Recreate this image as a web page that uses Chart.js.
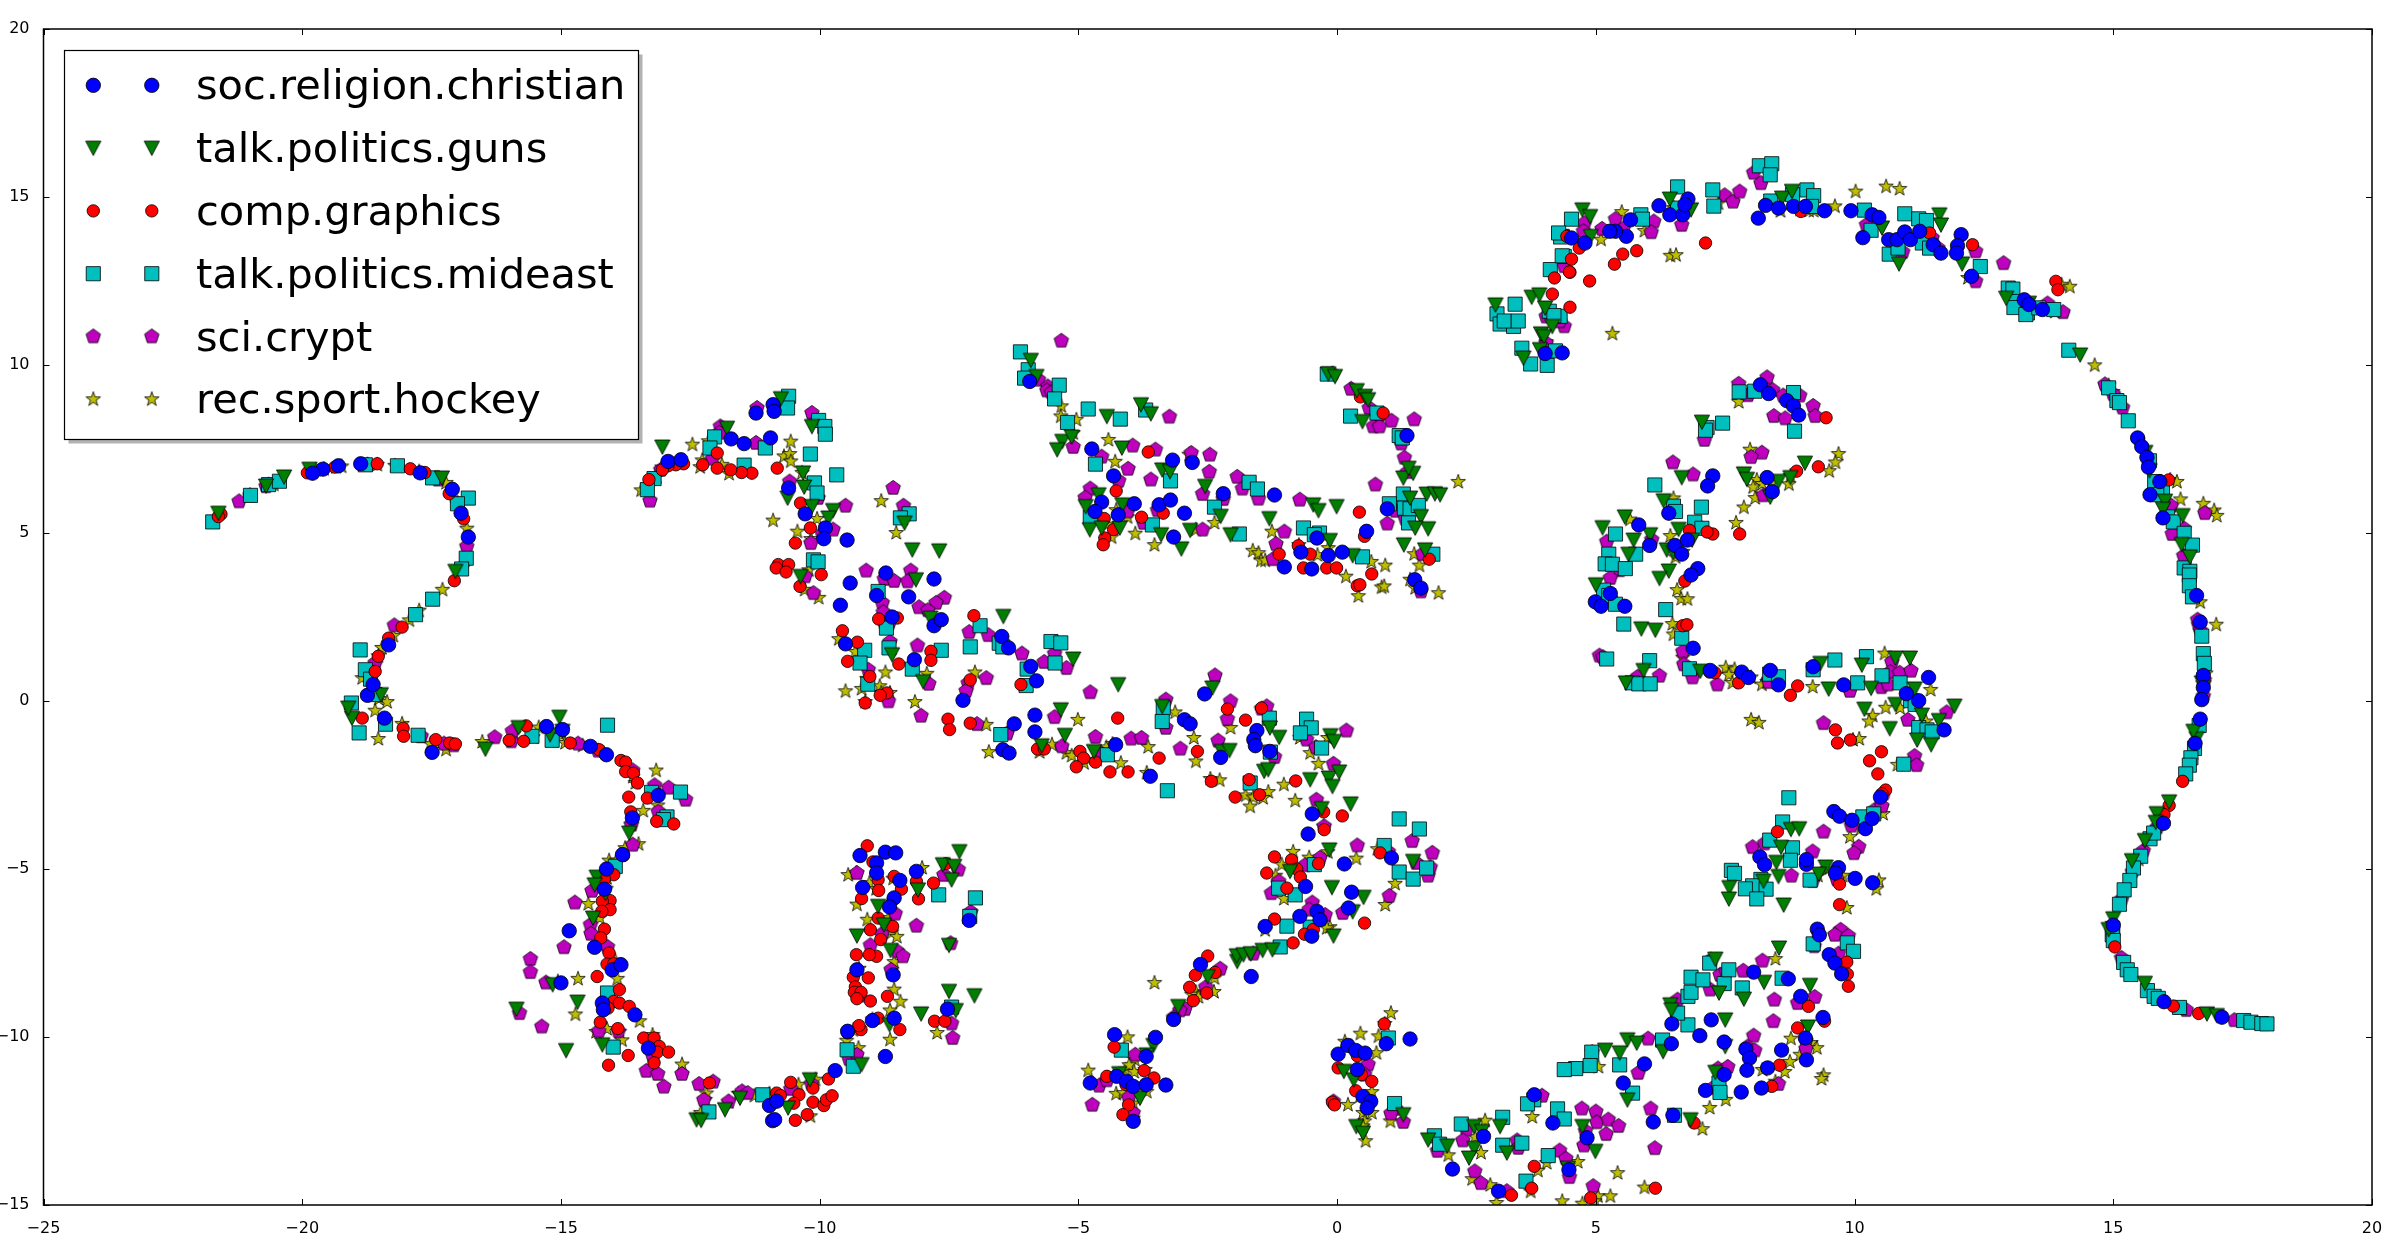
<!DOCTYPE html>
<html>
<head>
<meta charset="utf-8">
<title>t-SNE newsgroups</title>
<script src="https://cdn.jsdelivr.net/npm/chart.js@4/dist/chart.umd.js"></script>
<style>
  html, body { margin: 0; padding: 0; background: #fff; }
  canvas { display: block; }
</style>
</head>
<body>
<canvas id="chart" width="2400" height="1243"></canvas>
<script>
const xTicks = [-25, -20, -15, -10, -5, 0, 5, 10, 15, 20]
const yTicks = [-15, -10, -5, 0, 5, 10, 15, 20]

const christian = [
  [-19.3,7],[-19.6,6.9],[-18.87,7.06],[-19.8,6.78],[-17.72,6.79],[-17.1,6.3],[-16.93,5.59],[-16.79,4.88],[-18.74,.17],[-18.41,-.51],
  [-17.49,-1.53],[-15.28,-.76],[-14.97,-.85],[-14.43,-1.35],[-14.12,-1.6],[-13.12,-2.81],[-13.62,-3.48],[-18.33,1.67],[-18.63,.49],
  [-11.23,8.57],[-10.9,8.82],[-10.88,8.62],[-11.71,7.8],[-11.46,7.66],[-10.95,7.83],[-12.93,7.13],[-12.68,7.18],[-10.6,6.34],[-10.28,5.57],
  [-9.89,5.15],[-9.92,4.83],[-9.47,4.79],[-9.41,3.51],[-8.72,3.81],[-7.79,3.63],[-8.28,3.1],[-9.6,2.85],[-8.9,3.14],[-7.79,2.24],[-7.65,2.42],
  [-8.6,2.5],[-9.5,1.7],[-8.17,1.23],[-6.48,1.92],[-6.35,1.58],[-5.92,1.03],[-5.81,.6],[-7.23,.02],[-6.24,-.68],[-5.84,-.42],[-5.84,-.92],
  [-6.46,-1.45],[-6.34,-1.55],[-4.28,-1.3],[-3.61,-2.24],[-2.56,.21],[-2.95,-.56],[-2.84,-.68],[-2.25,-1.68],
  [-5.94,9.51],[-4.74,7.5],[-3.18,7.17],[-2.8,7.1],[-4.32,6.7],[-4.55,5.92],[-3.92,5.87],[-3.44,5.84],[-3.22,5.98],[-2.95,5.59],[-4.68,5.64],
  [-4.23,5.54],[-3.16,4.88],[-2.2,6.17],[-1.21,6.13],[-.39,4.85],[-.7,4.43],[-.17,4.33],[.1,4.43],[-1.02,3.99],[-.49,3.93],[.57,5.05],[.97,5.72],
  [1.5,3.61],[1.62,3.36],[1.35,7.9],
  [-1.55,-.88],[-1.61,-1.15],[-1.58,-1.33],[-1.3,-1.5],[-.48,-3.36],[-.56,-3.96],[.14,-4.85],[1.05,-4.67],[-.61,-5.52],[.28,-5.69],[-.72,-6.41],
  [-.39,-6.26],[-.33,-6.51],[.22,-6.16],[-1.39,-6.71],[-.49,-7],
  [-4.3,-9.93],[-3.51,-10.01],[-2.64,-7.84],[-1.66,-8.2],[-3.16,-9.48],[-4.77,-11.37],[-4.26,-11.17],[-4.07,-11.32],[-3.69,-10.58],[-3.94,-11.47],
  [-3.69,-11.42],[-3.31,-11.43],[-3.94,-12.51],
  [-14.84,-6.84],[-14.35,-7.33],[-13.81,-4.57],[-14.12,-5],[-14.16,-5.6],[-14.01,-8],[-13.84,-7.85],[-15,-8.39],[-14.2,-8.99],[-14.18,-9.19],
  [-13.57,-9.34],[-13.31,-10.33],[-10.97,-12.04],[-10.83,-11.91],[-10.91,-12.49],[-10.87,-12.46],[-9.7,-11],[-8.73,-10.58],[-8.73,-4.5],[-8.53,-4.52],
  [-9.22,-4.6],[-8.9,-4.82],[-8.9,-5.12],[-8.45,-5.34],[-9.17,-5.55],[-8.56,-5.86],[-8.65,-6.13],[-8.13,-5.07],[-8.58,-8.15],[-9.28,-8],[-8.98,-9.51],
  [-8.56,-9.44],[-9.46,-9.83],[-7.53,-9.17],[-7.11,-6.53],
  [.02,-10.51],[.21,-10.25],[.36,-10.4],[.54,-10.48],[.95,-10.2],[1.41,-10.06],[.39,-10.97],[.5,-11.77],[.65,-11.92],[.58,-12.11],[2.23,-13.93],
  [2.83,-12.96],[3.12,-14.59],[3.81,-11.72],[4.17,-12.56],[4.83,-13],[4.48,-13.95],[5.53,-11.37],[5.94,-10.8],[6.11,-12.53],[6.49,-12.33],[6.46,-10.2],
  [6.47,-9.61],[7.01,-9.96],[7.23,-9.49],[7.48,-10.15],[7.12,-11.59],[7.81,-11.64],[7.48,-11.12],[7.9,-10.36],[7.97,-10.63],[7.92,-10.99],[8.2,-11.52],
  [8.32,-10.92],[8.59,-10.39],[8.05,-8.07],[8.72,-8.27],[8.96,-8.79],[9.05,-10.03],[9.07,-10.68],[9.39,-9.42],[9.28,-6.79],[9.32,-6.96],[9.51,-7.55],
  [9.62,-7.8],[9.75,-8.12],
  [8.18,9.41],[8.34,9.15],[8.69,8.94],[8.82,8.78],[8.92,8.51],[7.26,6.7],[7.16,6.4],[8.31,6.65],[8.41,6.23],[6.41,5.59],[5.83,5.24],[6.04,4.63],[6.53,4.63],
  [6.77,4.79],[6.66,4.37],[6.97,3.94],[6.84,3.75],[5.28,3.2],[4.99,2.95],[5.1,2.82],[5.56,2.82],[6.88,1.57],[7.21,.91],[7.82,.86],[7.95,.7],[8.37,.91],
  [8.53,.48],[9.2,1.02],[9.79,.48],[11.43,.7],[11,.22],[11.24,.01],[11.73,-.86],[10.5,-2.86],[9.6,-3.29],[9.71,-3.43],[9.95,-3.55],[10.21,-3.8],[10.34,-3.5],
  [8.17,-4.64],[8.26,-4.87],[9.07,-4.86],[9.07,-4.72],[9.69,-4.96],[9.63,-5.12],[10.01,-5.28],[10.35,-5.41],
  [6.22,14.74],[6.43,14.47],[6.68,14.47],[6.78,14.94],[6.72,14.77],[5.67,14.32],[5.59,13.83],[5.38,13.98],[5.27,13.98],[4.79,13.63],[4.53,13.78],[8.14,14.37],
  [8.28,14.75],[8.82,14.72],[8.53,14.67],[9.05,14.72],[9.42,14.59],[9.93,14.59],[10.34,14.47],[10.47,14.39],[10.16,13.79],[10.66,13.73],[10.82,13.73],
  [10.97,13.96],[11.08,13.73],[11.26,13.98],[11.52,13.58],[11.67,13.33],[12.06,13.88],[11.99,13.55],[11.97,13.33],[12.26,12.64],[13.28,11.94],[13.37,11.8],
  [13.63,11.65],[4.35,10.36],[4.02,10.34],
  [15.47,7.83],[15.55,7.57],[15.65,7.25],[15.68,6.96],[15.9,6.53],[15.71,6.14],[15.96,5.45],[16.61,3.14],[16.68,2.35],[16.74,.76],[16.74,.4],[16.71,.04],
  [16.68,-.54],[16.58,-1.26],[15.97,-3.64],[15.98,-8.95],[17.1,-9.41],[15,-6.67]
]

const guns = [
  [-20.35,6.67],[-19.86,6.9],[-21.62,5.59],[-19.04,-.51],[-19.11,-.21],[-18.48,.19],[-17.04,3.86],[-17.3,6.64],[-16.46,-1.43],[-15.82,-.79],[-15.03,-.48],
  [-15.21,-1],[-14.97,-.9],[-20.7,6.4],
  [-11.79,8.12],[-10.75,9],[-13.04,7.56],[-10.32,6.79],[-10.3,6.37],[-10.62,6.04],[-10.15,8.17],[-10.15,5.79],[-9.74,5.67],[-9.83,5.45],[-8.36,5.3],[-8.21,4.5],
  [-7.69,4.47],[-10.37,3.71],[-8.14,3.61],[-7.86,2.47],[-8.6,1.38],[-8,.58],[-6.45,2.52],[-5.1,1.25],[-4.23,.49],[-5.34,-.26],[-5.26,-1.02],[-5.71,-1.33],
  [-4.7,-1.5],[-3.38,-.16],[-2.41,.39],
  [-5.92,10.14],[-5.81,9.66],[-3.79,8.82],[-3.6,8.55],[-4.45,8.47],[-5.31,7.73],[-5.41,7.48],[-5.13,7.86],[-4.16,7.53],[-3.38,6.88],[-3.23,6.83],[-4.61,6.14],
  [-4.86,5.79],[-4.15,5.84],[-4.78,5.1],[-4.55,5.15],[-4.2,5.15],[-3.4,4.95],[-3.01,4.53],[-2.84,5.08],[-2.25,5.5],[-2.55,6.39],[-2.06,4.95],[-1.31,5.43],
  [-.46,5.84],[-.36,5.67],[-.01,5.79],[-.17,9.74],[-.04,9.66],[.38,9.24],[.54,9.07],[.6,8.97],[.49,8.32],[1.28,6.64],[1.47,6.78],[1.41,6.04],[1.73,6.16],
  [1.89,6.17],[1.99,6.14],[1.62,5.49],[1.76,5.13],[1.51,5.15],[1.29,4.65],[-.14,4.78],[.3,4.33],[1.7,4.5],[1.38,6.93],
  [-1.3,-.8],[-1.12,-1.08],[-2.23,-1.5],[-2.08,-1.47],[-1.41,-2.09],[-1.33,-2.04],[-.52,-2.34],[-.16,-2.29],[-.09,-2.54],[.04,-2.11],[.26,-3.06],[-.3,-3.2],
  [-.13,-1.03],[-.06,-1.2],[-.15,-4.43],[-.1,-5.55],[.51,-5.84],[.3,-6.27],[-.07,-6.99],[1.47,-4.77],[-.91,-5.07],
  [-1.93,-7.75],[-1.94,-7.58],[-1.81,-7.55],[-1.67,-7.52],[-1.44,-7.42],[-1.25,-7.4],[-2.5,-8.2],[-3.07,-9.09],[-3.55,-10.25],[-3.68,-10.53],[-4.21,-11.09],[-3.81,-11.82],
  [-13.68,-3.93],[-14.31,-5.24],[-14.35,-5.47],[-14.14,-5.72],[-14.38,-6.46],[-15.86,-9.17],[-15.16,-8.44],[-14.68,-8.96],[-14.9,-10.4],[-14.2,-10.23],[-12.38,-12.46],
  [-12.29,-12.48],[-11.83,-12.16],[-11.54,-11.82],[-10.61,-12.11],[-10.19,-11.27],[-9.19,-10.82],[-8.87,-6.11],[-7.62,-4.87],[-7.3,-4.48],[-7.4,-4.92],[-7.45,-5.32],
  [-8.1,-5.62],[-9.28,-6.99],[-8.76,-6.66],[-8.63,-7.42],[-7.5,-8.64],[-7.01,-8.77],[-8.04,-9.31],[-8.65,-9.63],[-7.37,-9.21],[-7.5,-7.27],
  [.13,-11.02],[.32,-11.27],[.37,-12.66],[.5,-12.86],[1.28,-12.31],
  [1.76,-13.06],[2.13,-13.24],[2.65,-12.66],[2.8,-12.81],[2.65,-13.31],[2.55,-13.6],[3.15,-12.66],[3.28,-13.45],[4.74,-12.66],[4.99,-13.4],[4.46,-13.9],[5.61,-10.08],
  [5.79,-10.18],[6.3,-10.43],[5.18,-10.39],[5.46,-10.47],[5.61,-11.87],[6.83,-12.46],[6.44,-9.04],[6.46,-9.19],[7.5,-9.49],[7.5,-10.28],[7.38,-8.69],[7.31,-7.68],
  [7.86,-8.87],[8.25,-8.37],[9.14,-8.46],[9.1,-9.7],[8.54,-7.35],[7.31,-11.05],
  [7.05,8.3],[7.86,6.76],[7.92,6.6],[9.04,7.08],[8.53,6.54],[8.76,6.65],[8.37,6.07],[6.66,6.65],[6.31,5.96],[6.05,4.95],[5.56,5.48],[5.13,5.16],[5.73,4.79],[5.63,4.37],
  [6.6,5.11],[6.86,4.79],[6.37,4.5],[6.5,4.42],[6.41,3.87],[6.23,3.65],[5,3.46],[5.88,2.15],[6.15,2.11],[5.92,.91],[5.58,.54],[7.02,.89],[9.34,1.12],[10.14,1.07],
  [9.5,.36],[10.32,.38],[10.79,1.28],[11.07,1.28],[11.16,.36],[10.19,-.24],[10.79,-.1],[11.3,-.42],[11.93,-.15],[10.68,-.82],[11.63,-.58],[11.21,-1.16],[11.48,-1.3],
  [8.77,-3.82],[8.93,-3.8],[8.58,-4.35],[8.49,-4.8],[8.53,-5.22],[7.58,-5.55],[7.57,-5.89],[9.44,-4.94],[9.31,-5.15],[8.24,-5.36],[8.63,-6.07],
  [4.74,14.62],[4.89,14.42],[4.9,13.83],[6.43,14.94],[6.84,14.62],[8.6,14.97],[8.79,15.17],[10.53,14.08],[10.86,13.01],[11.64,14.47],[11.67,14.17],[12.08,13.01],
  [12.93,11.99],[13.37,11.84],[14.36,10.3],
  [3.06,11.79],[3.76,12.02],[3.91,12.09],[4.02,11.7],[4.16,11.15],[3.94,10.93],[4,10.85],[3.92,10.46],[3.6,10.21],
  [15.62,7.4],[15.7,6.86],[16,5.95],[15.96,5.71],[16.34,5.52],[16.32,4.66],[16.48,4.29],[16.74,.4],[16.71,.54],[16.61,-1.12],[16.55,-.9],[16.08,-3],[15.84,-3.35],
  [15.82,-3.61],[15.61,-4.15],[15.36,-4.75],[15,-6.48],[15.61,-8.4],[16.81,-9.31],[17,-9.36],[14.91,-6.8]
]

const graphics = [
  [-19.9,6.79],[-21.57,5.56],[-21.62,5.49],[-19.37,6.96],[-18.55,7.06],[-17.91,6.91],[-17.63,6.8],[-17.16,6.17],[-16.88,5.42],[-17.06,3.58],[-18.07,2.2],[-18.33,1.87],
  [-18.53,1.33],[-18.59,.88],[-18.84,-.51],[-18.05,-.81],[-18.04,-1.05],[-17.42,-1.15],[-17.15,-1.25],[-17.04,-1.28],[-15.67,-.74],[-16,-1.17],[-15.72,-1.2],[-14.82,-1.25],
  [-14.26,-1.45],[-14.14,-1.6],[-13.84,-1.77],[-13.75,-1.82],[-13.75,-2.1],[-13.6,-2.15],[-13.52,-2.44],[-13.69,-2.86],[-13.33,-2.89],[-13.65,-3.3],[-13.15,-3.58],[-12.82,-3.66],
  [-10.37,5.89],[-10.18,5.15],[-10.47,4.7],[-10.82,6.93],[-11.31,6.78],[-11.51,6.8],[-11.72,6.88],[-11.98,6.93],[-11.98,7.38],[-12.26,7.03],[-12.63,7.06],[-12.78,7.03],[-12.93,7],
  [-13.04,6.88],[-13.3,6.59],[-10.8,4.06],[-10.84,3.96],[-10.6,4.06],[-10.65,3.84],[-9.97,3.76],[-10.38,3.41],[-8.5,2.47],[-8.86,2.44],[-9.56,2.09],[-9.27,1.75],[-9.46,1.18],
  [-8.47,1.1],[-7.85,1.48],[-7.85,1.21],[-9.03,.73],[-8.7,.24],[-8.83,.17],[-9.12,-.06],[-7.02,2.54],[-7.09,.63],[-6.11,.49],[-7.52,-.54],[-7.49,-.85],[-7.09,-.66],[-5.79,-1.43],
  [-5.66,-1.43],[-4.24,-.51],[-3.44,-1.7],[-2.7,-1.5],[-4.97,-1.5],[-4.9,-1.7],[-5.04,-1.96],[-4.67,-1.82],[-4.39,-2.11],[-4.04,-2.11],[-2.43,-2.39],
  [-3.65,7.41],[-4.27,6.25],[-4.5,5.43],[-4.32,5.1],[-4.49,4.85],[-4.52,4.65],[-3.78,5.47],[-3.36,5.59],[.45,9.05],[.89,8.57],[.43,5.62],[.53,4.9],[-.75,4.62],[-1.12,4.37],
  [-.52,4.37],[-.65,3.96],[-.2,3.96],[-.01,3.96],[.67,3.78],[.39,3.43],[.44,3.46],[1.78,4.22],
  [-2.12,-.24],[-1.77,-.57],[-1.46,-.21],[-1.97,-2.86],[-1.7,-2.34],[-1.5,-2.79],[-.8,-2.38],[-.26,-3.3],[.1,-3.42],[-.25,-3.83],[-1.21,-4.64],[-.88,-4.73],[-.78,-5],[-1.36,-5.12],
  [-.71,-5.24],[-.97,-5.57],[-.36,-4.84],[.83,-4.52],[-1.21,-6.49],[-.63,-6.94],[-.46,-6.8],[-.85,-7.2],[.53,-6.61],
  [-2.5,-7.59],[-2.74,-8.16],[-2.36,-8.08],[-2.85,-8.52],[-2.78,-8.92],[-4.31,-10.3],[-4.45,-11.17],[-3.73,-11],[-3.54,-11.22],[-4.08,-11.42],[-4.03,-12.02],[-4.14,-12.31],[-2.52,-8.69],
  [-13.79,-4.6],[-13.98,-5.17],[-14.16,-5.3],[-14.05,-5.94],[-14.2,-5.96],[-14.05,-6.21],[-14.21,-6.26],[-14.16,-6.79],[-14.23,-7.05],[-14.07,-7.5],[-14.11,-7.83],[-13.98,-7.82],
  [-14.3,-8.2],[-13.87,-8.59],[-13.98,-8.94],[-13.87,-8.99],[-14.09,-9.14],[-13.68,-9.09],[-14.24,-9.56],[-13.9,-9.75],[-13.7,-10.55],[-14.08,-10.84],[-13.4,-10.03],[-13.2,-10.03],
  [-13.1,-10.28],[-13.14,-10.45],[-12.92,-10.45],[-13.2,-10.77],[-12.13,-11.37],[-10.83,-11.67],[-10.76,-11.74],[-10.56,-11.35],[-10.4,-11.72],[-10.13,-11.52],[-10.5,-11.97],
  [-10.13,-11.94],[-9.92,-12.04],[-9.87,-11.87],[-9.76,-11.75],[-9.83,-11.25],[-10.47,-12.48],[-10.24,-12.31],[-9.2,-9.78],[-9.24,-9.66],[-9.46,-9.88],[-8.87,-9.44],[-8.45,-9.78],
  [-7.78,-9.53],[-7.58,-9.53],[-9.08,-4.31],[-8.97,-4.79],[-8.87,-5.32],[-8.56,-5.22],[-8.42,-5.6],[-8.86,-5.64],[-8.13,-5.37],[-7.8,-5.42],[-7.56,-4.84],[-9.19,-5.88],[-8.58,-5.91],
  [-8.09,-5.89],[-8.87,-6.46],[-9.02,-6.81],[-8.59,-6.71],[-8.82,-7.1],[-9.29,-7.55],[-8.9,-7.6],[-9.04,-7.55],[-9.35,-8.22],[-9.06,-8.24],[-9.31,-8.51],[-9.33,-8.67],[-9.2,-8.67],
  [-9.28,-8.86],[-9.02,-8.93],[-8.69,-8.79],
  [.02,-10.92],[.39,-10.56],[.47,-11.12],[.67,-11.32],[.36,-11.6],[-.09,-11.94],[-.05,-12.02],[.91,-9.61],
  [3.81,-13.85],[3.76,-14.5],[3.37,-14.71],[4.9,-14.79],[6.9,-12.56],[6.15,-14.5],[8.9,-9.73],[9.11,-9.09],[8.55,-10.84],[8.4,-11.47],[9.42,-9.53],[9.85,-7.77],[9.86,-8.13],[9.88,-8.49],[9.71,-6.06],
  [9.45,8.43],[8.88,6.84],[9.3,6.97],[7.78,4.97],[7.26,4.97],[7.15,5.03],[6.81,5.08],[6.72,3.57],[6.68,2.24],[6.76,2.27],[7.2,.86],[7.3,.84],[7.76,.54],[8.9,.45],[8.76,.17],[9.63,-.86],
  [9.67,-1.25],[9.92,-1.16],[10.52,-1.51],[10.29,-1.78],[10.45,-2.17],[10.6,-2.65],[10.53,-2.76],[8.51,-3.89],[9.71,-5.45],
  [7.12,13.63],[5.79,13.4],[5.52,13.3],[5.36,13],[4.68,13.48],[4.53,13.15],[4.5,12.76],[4.88,12.5],[4.5,11.72],[8.96,14.57],[11.45,13.93],[12.28,13.58],[13.89,12.49],[13.93,12.24],[4.44,13.83],
  [4.16,12.11],[4.2,12.59],[4.49,12.77],
  [15.49,7.8],[16.07,6.58],[16.34,-2.39],[16.08,-3.11],[15.98,-3.38],[15.03,-7.32],[16.16,-9.08],[16.65,-9.3]
]

const mideast = [
  [-21.73,5.33],[-20.65,6.44],[-20.44,6.54],[-21,6.12],[-18.78,7.03],[-18.16,7],[-17.48,6.64],[-16.79,6.04],[-17,5.87],[-16.83,4.25],[-16.92,3.93],[-17.48,3.03],[-17.81,2.57],[-18.88,1.52],
  [-18.78,.93],[-18.68,.65],[-18.59,.19],[-19.05,-.06],[-18.39,-.69],[-18.9,-.95],[-17.76,-1.02],[-15.56,-1.05],[-15.17,-1.17],[-14.1,-.72],[-13.25,-2.72],[-12.69,-2.71],[-12.95,-3.45],[-13.02,-3.53],
  [-10.6,9.07],[-10.62,8.72],[-10.02,8.35],[-9.9,8.17],[-9.89,7.94],[-12.03,7.86],[-12.12,7.53],[-11.05,7.53],[-11.46,7.02],[-10.18,7.35],[-9.67,6.73],[-10.1,6.49],[-10.05,6.19],[-13.2,6.62],[-13.33,6.29],
  [-8.27,5.57],[-8.44,5.45],[-10.12,4.2],[-10.03,4.14],[-8.87,3.26],[-8.71,2.17],[-6.9,2.24],[-7.09,1.61],[-6.53,1.72],[-6.46,1.61],[-5.53,1.77],[-5.34,1.73],[-5.45,1.13],[-5.99,.95],[-6.01,.46],
  [-9.13,1.51],[-8.66,1.58],[-9.22,1.13],[-7.65,1.51],[-8.21,.95],[-9.07,.5],[-6.5,-1],[-4.44,-1.6],[-3.36,-.21],[-3.38,-.61],[-3.28,-2.67],
  [-6.12,10.39],[-5.97,9.86],[-6.04,9.61],[-5.37,9.4],[-5.46,8.99],[-4.81,8.69],[-4.19,8.39],[-5.21,8.29],[-3.7,8.66],[-4.67,7.05],[-3.22,6.55],[-4.77,5.47],[-3.57,5.24],[-2.37,5.77],[-1.89,4.97],
  [-1.7,6.51],[-1.54,6.31],[-.65,5.15],[-.34,5],[-.44,4.95],[.49,4.29],[1.85,4.37],[-.19,9.73],[.26,8.48],[.77,8.57],[1.2,7.9],[1.26,7.83],[1.28,6.16],[1.01,5.87],[1.3,5.74],[1.41,5.72],[1.57,5.82],[1.38,5.3],
  [-1.31,-.51],[-.59,-.54],[-.5,-.8],[-.71,-.95],[-1.29,-1.52],[-.3,-1.4],[-1.68,-2.44],[.91,-4.3],[1.2,-5.09],[1.59,-3.81],[1.2,-3.51],[1.47,-5.3],[1.73,-4.97],[-.44,-4.87],[-1.13,-5.57],[-.81,-5.77],
  [-.97,-6.7],[-.52,-6.73],[-1.1,-7.32],[-4.17,-10.39],
  [-13.95,-4.92],[-14.1,-8.69],[-13.99,-10.3],[-12.14,-12.23],[-11.1,-11.72],[-9.35,-10.87],[-9.47,-10.38],[-7.7,-5.77],[-6.99,-5.86],[-7.1,-6.41],[-7.45,-9.11],
  [.99,-10.03],[1.11,-11.98],
  [1.88,-12.94],[1.98,-13.19],[2.4,-12.59],[3.2,-12.39],[3.2,-13.22],[3.57,-13.16],[3.8,-11.87],[3.68,-11.99],[4.26,-12.14],[4.39,-12.44],[4.08,-13.53],[3.65,-14.29],[4.92,-10.45],[4.89,-10.85],[4.61,-10.94],
  [4.39,-10.97],[5.46,-10.83],[5.71,-11.67],[6.29,-10.09],[6.78,-9.64],[6.58,-9.29],[6.78,-8.79],[6.84,-8.67],[6.84,-8.22],[7.07,-8.3],[7.48,-8.41],[7.83,-8.54],[7.2,-7.8],[7.57,-8],[8.6,-8.25],[7.38,-11.37],
  [7.4,-11.65],[6.52,-12.33],[9.2,-7.23],[9.86,-7.2],[9.98,-7.45],
  [7.77,9.2],[8.07,9.22],[8.82,9.18],[8.84,8.03],[7.45,8.27],[7.15,8.14],[7.12,8.06],[6.14,6.43],[7.04,5.77],[6.5,5.8],[6.54,5.64],[6.91,5.32],[7.05,5.14],[5.38,4.97],[5.77,4.37],[5.25,4.37],[5.18,4.08],
  [5.32,4.07],[5.57,3.94],[5.15,3.3],[5.25,3.14],[5.38,2.88],[6.35,2.72],[5.54,2.29],[6.66,1.87],[6.81,.96],[5.21,1.25],[6.04,1.2],[5.7,.54],[5.83,.51],[6.05,.51],[8.36,.8],[8.53,.72],[9.2,.93],[9.62,1.22],
  [10.23,1.32],[10.06,.54],[10.53,.75],[10.88,.54],[11.08,.01],[11.17,-.1],[11.24,-.79],[11.4,-.86],[11.5,-.92],[10.95,-1.88],[8.73,-2.88],[8.61,-3.6],[10.16,-3.45],[10.37,-3.36],[8.36,-4.14],[8.8,-4.37],
  [8.76,-4.74],[7.62,-5.04],[7.68,-5.13],[8.19,-5.31],[8.03,-5.5],[7.89,-5.59],[8.29,-5.6],[8.11,-5.89],[9.14,-5.33],
  [4.53,14.34],[4.35,13.83],[4.39,13.23],[5.87,14.47],[5.9,14.34],[6.58,15.3],[6.58,14.67],[7.26,15.21],[7.28,14.73],[8.16,15.93],[8.4,15.99],[8.37,15.66],[8.38,14.88],[8.8,15.07],[9.08,15.21],[9.21,15.04],
  [9.17,14.72],[10.19,14.61],[10.32,14.01],[10.97,14.5],[11.24,14.35],[11.39,14.3],[10.67,13.3],[10.84,13.48],[11.31,13.63],[11.45,13.48],[12.43,12.93],[12.97,12.29],[13.06,12.26],[13.11,11.89],[13.08,11.71],
  [13.34,11.55],[13.31,11.5],[13.56,11.7],[13.85,11.65],[14.14,10.44],[4.31,11.45],
  [3.44,11.81],[3.09,11.52],[3.15,11.22],[3.41,11.15],[3.23,11.31],[3.5,11.31],[4.1,11.6],[4.19,11.47],[3.57,10.5],[3.74,10.03],[4.06,9.99],[4.22,10.42],[4.32,13.81],[4.28,13.93],[4.12,12.84],[4.35,13.25],
  [14.91,9.32],[15.07,8.94],[15.12,8.88],[15.29,8.34],[15.7,7.15],[15.8,6.53],[15.95,6.24],[15.84,6.14],[16.05,5.48],[16.16,5.33],[16.37,4.99],[16.53,4.64],[16.37,3.96],[16.48,3.86],[16.47,3.75],[16.47,3.43],
  [16.53,3.1],[16.71,1.93],[16.74,1.41],[16.76,1.12],[16.66,-.73],[16.57,-1.41],[16.5,-1.69],[16.47,-1.91],[16.4,-2.17],[15.71,-4.1],[15.78,-3.93],[15.53,-4.62],[15.39,-4.97],[15.32,-5.34],[15.21,-5.62],
  [15.12,-6.05],[14.99,-6.79],[14.98,-6.96],[15,-7.13],[15.2,-7.78],[15.27,-8],[15.34,-8.14],[15.66,-8.62],[15.79,-8.79],[15.87,-8.85],[16.28,-9.12],[17.52,-9.51],[17.66,-9.56],[17.87,-9.6],[17.97,-9.61]
]

const crypt = [
  [-21.22,5.94],[-21.01,6.12],[-20.7,6.39],[-18.74,7.03],[-17.37,6.59],[-17,5.89],[-16.82,4.6],[-18.22,2.25],[-18.59,1.13],[-17.7,-1.05],[-17.26,-1.27],[-17.07,-1.32],[-16.28,-1.08],[-15.94,-.9],[-15.96,-1.2],
  [-14.67,-1.27],[-14.28,-1.48],[-13.61,-2.07],[-13.19,-2.51],[-12.92,-2.58],[-12.59,-2.94],[-13.12,-3.29],[-13.64,-3.68],
  [-11.21,8.72],[-10.15,8.57],[-10.06,8.34],[-11.92,8.17],[-11.94,7.98],[-11.23,7.68],[-12.07,7.21],[-13.07,6.88],[-13.28,5.96],[-10.58,6.53],[-10.03,6.04],[-9.5,5.81],[-9.74,5.1],[-9.95,4.98],[-10.17,4.7],
  [-8.58,6.34],[-8.38,5.81],[-9.1,3.88],[-10.28,3.71],[-10.12,3.21],[-8.24,3.88],[-8.75,3.63],[-8.56,3.57],[-8.3,3.56],[-7.59,3.07],[-7.75,2.92],[-8.08,2.79],[-7.91,2.7],[-8.79,2.92],[-8.77,2.64],[-8.75,2.32],
  [-8.66,2.29],[-8.64,1.76],[-8.11,1.65],[-7.11,2.05],[-6.74,1.96],[-6.09,1.41],[-5.66,1.16],[-5.46,1.41],[-5.23,.98],[-9.06,.93],[-7.89,.51],[-6.78,.68],[-7.13,.53],[-7.17,.3],[-8.67,-.01],[-8.04,-.44],
  [-6.96,-.69],[-6.38,-.97],[-5.46,-.48],[-4.77,.26],[-4.67,-1.07],[-5.32,-1.35],[-4.57,-1.55],[-3.98,-1.12],[-3.78,-1.1],[-3.03,-1.42],[-3.31,.04],[-3.31,-.8],[-2.36,.76],[-2.3,-1.18],
  [-5.33,10.72],[-5.95,9.66],[-5.77,9.56],[-5.59,9.36],[-5.61,9.24],[-5.52,9.18],[-5.1,7.56],[-3.95,7.6],[-3.24,8.46],[-3.51,7.48],[-4.55,7.27],[-4.04,6.91],[-3.6,6.59],[-2.82,7.38],[-2.46,7.33],[-2.47,6.82],
  [-4.22,6.55],[-4.77,6.32],[-4.87,6.05],[-4.05,5.64],[-3.47,5.68],[-3.74,5.3],[-2.6,6.16],[-2.2,6.01],[-1.93,6.67],[-1.83,6.32],[-1.52,6.02],[-.72,5.99],[-2.6,5.1],[-1.02,5.04],[-1.18,4.67],[-1.24,4.22],
  [-.09,9.74],[.27,9.29],[.62,8.72],[.8,8.47],[.7,8.17],[.82,8.17],[1.05,8.34],[1.49,8.38],[1.24,7.66],[1.3,7.24],[1.36,6.81],[.74,6.44],[1.13,5.66],[1.32,5.42],[.97,5.28],[1.65,4.37],[1.62,3.26],
  [-2.06,-.01],[-2.12,-.54],[-1.46,-.23],[-1.36,-.16],[-1.21,-1.67],[-.59,-1.15],[-.41,-1.38],[.18,-.88],[-.07,-1.87],[-.4,-2.94],[-.25,-3.73],[.39,-4.3],[.99,-4.49],[1.45,-4.17],[1.84,-4.52],[1.53,-4.82],
  [1.8,-4.95],[1.76,-5.2],[1.01,-5.8],[-.33,-4.67],[-.62,-4.89],[-1.13,-5.37],[-1.27,-5.72],[-.48,-6],[-.54,-6.21],[-.23,-6.37],[.11,-6.31],[-1.62,-7.52],
  [-2.26,-7.97],[-2.54,-8.52],[-2.94,-9.17],[-3.04,-9.21],[-3.16,-9.42],[-3.9,-10.53],[-4.6,-11.45],[-4.45,-11.29],[-4.73,-12.02],[-4.03,-11.8],[-3.94,-12.26],
  [-13.61,-4.28],[-14.4,-5.65],[-14.73,-6],[-14.43,-6.66],[-14.42,-6.93],[-14.1,-7.32],[-14.94,-7.33],[-15.59,-7.68],[-15.59,-8.07],[-15.29,-8.38],[-15.8,-9.29],[-15.37,-9.69],[-14.27,-9.83],[-13.89,-9.83],
  [-13.22,-10.6],[-13.35,-11.01],[-13.13,-11.1],[-13.01,-11.48],[-12.66,-11.1],[-12.33,-11.4],[-12.06,-11.33],[-12.24,-11.87],[-11.76,-11.92],[-11.5,-11.62],[-11.39,-11.67],[-10.56,-11.55],[-10.16,-11.39],
  [-9.43,-10.66],[-9.28,-10.53],[-7.43,-10.03],[-7.45,-9.6],[-8.13,-6.69],[-7.47,-7.21],[-7.08,-6.28],[-7.32,-5.02],[-7.6,-5.18],[-9.28,-5.12],[-8.54,-6.33],[-8.8,-6.94],[-9.02,-7.27],[-8.5,-7.45],[-8.39,-7.6],
  [-8.62,-8],[-9.23,-8.77],
  [.6,-10.82],[.53,-11.12],[-.07,-11.92],[1.13,-12.14],[1.04,-12.28],[1.28,-12.53],
  [3.96,-11.75],[2.5,-12.76],[2.43,-13.08],[1.94,-13.39],[3.48,-13.08],[3.5,-13.3],[2.66,-14],[2.78,-14.35],[3.28,-14.59],[4.73,-12.13],[5,-12.22],[5.02,-12.54],[5.24,-12.46],[5.44,-12.65],[4.8,-12.8],[5.2,-12.89],
  [4.77,-13.23],[4.3,-13.38],[4.42,-13.62],[4.49,-14.17],[4.95,-14.44],[6.06,-12.13],[6.14,-13.31],[4.93,-10.45],[5.82,-11.07],[6.01,-10.05],[6.58,-8.89],[7.23,-7.7],[7.4,-8.15],[7.52,-8.05],[7.21,-8.59],[7.85,-8.03],
  [8.22,-7.73],[8.45,-8.89],[8.43,-9.53],[8.05,-9.96],[7.93,-10.29],[8.07,-10.4],[7.36,-10.94],[7.55,-10.89],[7.26,-11.52],[8.53,-11.4],[9.23,-8.81],[8.9,-8.99],[9.22,-7.3],[9.06,-10.11],[9.06,-10.35],[9.73,-6.81],
  [9.62,-6.96],[9.88,-6.99],[9.69,-7.52],
  [7.76,9.44],[7.94,9.1],[8.27,9.44],[8.31,9.63],[8.42,9.25],[8.62,9.09],[8.77,8.94],[8.94,9.09],[9.2,8.78],[8.44,8.48],[8.66,8.41],[9.24,8.48],[7.1,7.77],[8.21,7.39],[8,7.26],[6.49,7.1],[6.88,6.74],[8.24,6.12],
  [5.21,4.74],[6.08,4.8],[6.93,5.27],[5.46,3.89],[5.28,3.66],[5.07,1.35],[5.14,1.3],[6.23,.75],[5.81,.72],[6.68,1.47],[6.7,1.09],[6.87,.7],[7.35,.49],[8.34,.56],[9.91,.3],[10.52,.41],[10.65,.49],[10.72,1.16],[10.69,.86],
  [10.87,.84],[11.09,.9],[11.03,-.56],[11.78,-.34],[9.4,-.66],[11.16,-1.64],[11.2,-1.91],[10.56,-2.76],[10.4,-3.23],[10.53,-3.13],[9.94,-3.71],[9.4,-3.89],[10.08,-4.34],[9.99,-4.53],[9.19,-4.48],[8.03,-4.35],[8.26,-4.24],
  [8.78,-5.2],[9.19,-5.36],[9.66,-5.31],
  [4.78,14.22],[4.76,13.98],[5.12,14.05],[5.38,14.34],[5.53,14.06],[6.12,14.27],[6.07,13.95],[6.66,14.17],[7.49,15.05],[7.65,14.86],[7.78,15.16],[8.05,15.72],[8.19,15.41],[8.79,15.01],[10.23,14.17],[10.93,13.36],[11.5,13.78],
  [11.61,13.48],[12.34,13.38],[12.34,12.49],[12.88,13.03],[13.73,11.83],[14.03,11.57],[4.39,12.94],[4.39,11.15],[4.04,11.44],[4.3,11.3],[4.04,10.65],
  [14.84,9.42],[15,9.13],[15.18,8.73],[16.12,5.81],[16.37,5.13],[16.14,4.97],[16.36,4.32],[16.77,5.59],[16.63,2.42],[16.65,2.27],[16.68,2.1],[16.76,.62],[16.74,.14],[16.5,-1.77],[15.85,-3.76],[15.58,-4.46],[15.37,-5.08],
  [15.16,-5.91],[14.98,-6.82],[15.16,-7.65],[16.41,-9.2],[17.34,-9.5],[17.95,-9.61]
]

const hockey = [
  [-21.71,5.36],[-20.65,6.44],[-20.55,6.44],[-19.74,6.88],[-19.58,6.9],[-19.35,6.96],[-19.24,6.98],[-18.74,7.03],[-18.55,7.03],[-18.21,7],[-17.74,6.83],[-17.22,6.49],[-16.82,5.13],[-16.9,3.96],[-17.29,3.31],[-17.74,2.69],
  [-17.93,2.4],[-18.24,1.94],[-18.46,1.58],[-18.53,1.33],[-18.84,.68],[-18.52,.06],[-18.36,-.03],[-18.59,-.29],[-18.53,-1.13],[-18.07,-.68],[-17.52,-1.28],[-17.37,-1.28],[-17.22,-1.45],[-16.52,-1.22],[-15.91,-.98],[-15.43,-.79],
  [-15.54,-1.08],[-14.99,-1.02],[-14.92,-1.25],[-14.58,-1.33],[-13.61,-2.26],[-13.56,-2.44],[-13.16,-2.07],[-13.13,-3.11],[-13.41,-3.27],[-13.64,-3.68],
  [-12.46,7.63],[-12.15,7.73],[-12.27,7.16],[-12.31,6.96],[-11.89,7.03],[-11.75,6.76],[-13.05,6.95],[-13.15,6.67],[-13.45,6.27],[-10.56,7.72],[-10.69,7.28],[-10.58,7.35],[-10.56,7.13],[-10.34,6.79],[-10.9,5.37],[-10.43,5.04],
  [-10.05,5.42],[-10.17,4.82],[-8.81,5.95],[-8.52,5],[-10.21,3.89],[-10.29,3.31],[-10.02,3.07],[-9.63,1.84],[-9.31,1.46],[-8.73,.85],[-9.09,.66],[-7.93,.81],[-7,.85],[-9.5,.29],[-9.19,.36],[-8.84,.44],[-8.64,.24],[-8.81,.24],
  [-9.12,-.03],[-8.16,-.03],[-6.78,-.71],[-6.73,-1.52],[-5.75,-1.52],[-5.51,-1.3],[-5.23,-1.55],[-5.13,-1.63],[-5.01,-.56],[-4.89,-1.85],[-4.64,-1.75],[-4.46,-1.38],[-4.34,-1.28],[-4.18,-1.85],[-3.65,-1.37],[-3.68,-2.14],
  [-3.13,-.34],[-2.77,-1.1],[-2.73,-1.8],[-2.45,-2.32],[-2.27,-2.36],
  [-5.95,9.64],[-5.33,8.77],[-5.34,8.47],[-5.04,8.37],[-5.1,7.97],[-4.42,7.77],[-4.29,7.12],[-2.86,7.33],[-4.27,5.68],[-4.05,5.47],[-4.45,5.25],[-4.36,4.87],[-3.9,4.98],[-3.53,4.64],[-2.73,5.1],[-2.37,5.3],[-1.26,5.04],
  [-1.63,4.47],[-1.52,4.4],[-1.47,4.18],[-1.39,4.18],[-.74,4.64],[-.38,4.34],[-.17,4.55],[.17,3.7],[.66,4.14],[.93,4.03],[.41,3.12],[.86,3.38],[.91,3.41],[1.41,3.61],[1.51,3.36],[1.96,3.21],[2.34,6.52],[1.49,4.37],[1.59,4.03],
  [-2.06,-.8],[-.72,-1.1],[-.18,-1.1],[-.52,-1.55],[-.36,-1.87],[-1.03,-2.49],[-1.77,-2.81],[-1.62,-2.87],[-1.33,-2.71],[-1.43,-2.89],[-1.68,-3.14],[-.81,-2.97],[-.26,-3.74],[-.85,-4.49],[-.18,-4.5],[-.54,-4.66],[-.43,-4.85],
  [-1.07,-4.87],[.37,-4.69],[.78,-4.41],[-1.19,-5.2],[1.12,-5.44],[-1.03,-5.89],[.93,-6.07],[-1.39,-6.82],[-.14,-6.73],[-.2,-6.76],
  [-2.37,-8.25],[-3.53,-8.39],[-2.73,-8.67],[-2.81,-8.74],[-2.58,-8.71],[-2.38,-8.66],[-2.68,-8.81],[-4.05,-10.01],[-3.91,-10.68],[-4.09,-10.97],[-4.02,-10.84],[-3.92,-11.04],[-3.71,-10.98],[-4.81,-11],[-4.02,-11.54],
  [-4.27,-11.69],[-4.13,-11.67],[-3.68,-11.63],[-3.94,-11.98],[-3.94,-12.43],
  [-13.5,-4.26],[-13.76,-4.38],[-14.07,-4.75],[-13.93,-4.75],[-14.11,-5.27],[-14.47,-6.04],[-14.25,-6.46],[-14.27,-7.25],[-13.95,-7.72],[-13.91,-8.27],[-14.67,-8.27],[-15.06,-8.35],[-14.72,-9.33],[-13.48,-9.53],[-14.32,-9.85],
  [-14.11,-9.76],[-13.87,-9.85],[-13.82,-10.1],[-13.23,-9.94],[-12.66,-10.82],[-12.19,-11.68],[-12.21,-11.87],[-12.3,-12.26],[-11.76,-11.94],[-11.57,-11.69],[-11.26,-11.75],[-10.97,-11.69],[-10.87,-11.72],[-10.41,-11.42],
  [-10.08,-11.27],[-10.18,-12.36],[-9.48,-10.11],[-9.25,-10.33],[-9.35,-9.8],[-8.98,-9.48],[-8.64,-9.21],[-8.64,-10.08],[-8.56,-8.59],[-8.44,-8.95],[-7.73,-9.88],[-9.24,-7.97],[-8.56,-7.77],[-9.08,-6.51],[-8.67,-6.46],
  [-8.61,-6.89],[-8.51,-7.02],[-9.28,-6.06],[-9.04,-5.42],[-8.91,-5.6],[-8.58,-5.29],[-9.29,-5.12],[-9.45,-5.18],[-8.02,-4.97],
  [1.04,-9.29],[.92,-9.61],[.8,-9.98],[.15,-10.14],[.45,-9.9],[.55,-10.5],[.76,-10.48],[.67,-11.64],[.44,-11.77],[.21,-12.02],[.5,-12.26],[.67,-12.26],[1.03,-12.51],[.53,-12.51],[.5,-12.66],[.55,-13.1],
  [2.86,-12.49],[2.67,-12.98],[2.15,-13.52],[2.78,-13.45],[2.61,-14.23],[2.96,-14.41],[3.08,-14.94],[3.71,-11.99],[3.77,-12.38],[4.05,-13.75],[3.88,-13.98],[3.74,-14.6],[4.35,-14.89],[4.65,-13.72],[5.04,-14.74],[5.28,-14.74],
  [4.74,-14.96],[4.98,-14.89],[5.42,-14.05],[5.94,-14.48],[5.05,-10.89],[7.06,-12.74],[7.2,-12.11],[7.51,-11.87],[8.22,-10.98],[8.65,-11.04],[8.75,-10.74],[8.95,-10.53],[8.47,-11.33],[8.77,-10.05],[9.16,-10.18],[9.27,-10.33],
  [9.4,-11.14],[9.36,-11.25],[8.47,-7.68],[8.96,-8.93],[9.05,-8.97],[9.85,-6.16],
  [7.76,8.9],[7.98,7.48],[9.69,7.35],[9.63,7.1],[9.51,6.84],[8.76,6.7],[8.73,6.45],[8.4,6.49],[8.11,6.58],[8.21,6.46],[8.04,6.36],[8.34,6.2],[8.08,6.04],[7.86,5.76],[7.71,5.3],[6.5,6.03],[5.66,5.4],[6.44,4.91],[6.68,4.44],
  [6.54,4.28],[5.21,3],[5.41,2.92],[6.57,3.3],[6.65,3.04],[6.77,3.03],[6.48,2.29],[6.5,1.98],[6.68,1.29],[6.89,.89],[7.51,.99],[7.68,.94],[7.57,.78],[7.64,.54],[8,.7],[8.21,.49],[8.31,.57],[9.19,.42],[10.58,1.41],[11.47,.33],
  [10.88,-.21],[10.6,-.2],[10.35,-.44],[10.28,-.61],[11.38,-.61],[8,-.56],[8.15,-.65],[9.97,-1.16],[10.09,-1.13],[10.83,-1.9],[10.55,-3.36],[10.12,-3.8],[9.91,-4.05],[9.29,-5.2],[9.47,-5.01],[9.77,-5.2],[10.47,-5.34],[10.42,-5.6],
  [5.1,13.73],[5.5,14.55],[5.94,13.99],[6.51,14.67],[6.44,13.25],[6.55,13.27],[7.37,14.81],[5.32,10.93],[8.57,14.58],[8.95,14.62],[9.12,14.59],[9.21,14.59],[9.62,14.72],[10.02,15.16],[10.61,15.31],[10.87,15.24],[11.5,13.58],
  [12.19,12.59],[13.87,11.58],[14,12.39],[14.16,12.33],[14.64,9.99],[4.04,10.68],[4.04,10.52],
  [14.91,9.39],[14.99,9.2],[16.1,6.58],[16.23,6.52],[16.3,6],[16.74,5.87],[16.95,5.67],[17,5.51],[16.68,2.94],[16.99,2.27],[16.79,.82],[15.49,-4.72],[14.98,-6.63]
]

// the down triangle, pentagon and 5 point star are drawn once on small canvases so they sit centred on the point
const polygonMarker = (fill, points) => {
  const c = document.createElement('canvas')
  c.width = 20
  c.height = 20
  const ctx = c.getContext('2d')
  ctx.beginPath()
  points.forEach(([px, py], i) => i ? ctx.lineTo(10 + px, 10 + py) : ctx.moveTo(10 + px, 10 + py))
  ctx.closePath()
  ctx.fillStyle = fill
  ctx.fill()
  ctx.lineWidth = .8
  ctx.strokeStyle = '#000'
  ctx.stroke()
  return c
}

const ring = (count, radiusAt) => Array.from({ length: count }, (_, i) => {
  const a = -Math.PI / 2 + i * 2 * Math.PI / count
  return [Math.cos(a) * radiusAt(i), Math.sin(a) * radiusAt(i)]
})

const triangleDown = polygonMarker('#007f00', [[-7.6, -7], [7.6, -7], [0, 7.4]])
const pentagon = polygonMarker('#bf00bf', ring(5, () => 7.6))
const star = polygonMarker('#bfbf00', ring(10, i => i % 2 ? 3 : 7.6))

const series = [
  { label: 'soc.religion.christian', data: christian, color: '#0000ff', pointStyle: 'circle', radius: 7.2 },
  { label: 'talk.politics.guns', data: guns, color: '#007f00', pointStyle: triangleDown, radius: 8 },
  { label: 'comp.graphics', data: graphics, color: '#ff0000', pointStyle: 'circle', radius: 6.2 },
  { label: 'talk.politics.mideast', data: mideast, color: '#00bfbf', pointStyle: 'rect', radius: 10 },
  { label: 'sci.crypt', data: crypt, color: '#bf00bf', pointStyle: pentagon, radius: 8 },
  { label: 'rec.sport.hockey', data: hockey, color: '#bfbf00', pointStyle: star, radius: 8 }
]

const formatTick = v => v < 0 ? '\u2212' + Math.abs(v) : String(v)

const framePlugin = {
  id: 'frame',
  afterDatasetsDraw(chart) {
    const { ctx, chartArea: { left, right, top, bottom }, scales: { x, y } } = chart
    ctx.save()
    ctx.strokeStyle = '#000'
    ctx.lineWidth = 1
    ctx.beginPath()
    xTicks.forEach(v => {
      const px = Math.round(x.getPixelForValue(v)) + .5
      ctx.moveTo(px, bottom); ctx.lineTo(px, bottom - 6)
      ctx.moveTo(px, top); ctx.lineTo(px, top + 6)
    })
    yTicks.forEach(v => {
      const py = Math.round(y.getPixelForValue(v)) + .5
      ctx.moveTo(left, py); ctx.lineTo(left + 6, py)
      ctx.moveTo(right, py); ctx.lineTo(right - 6, py)
    })
    ctx.stroke()
    ctx.lineWidth = 1.5
    ctx.strokeRect(left, top, right - left, bottom - top)
    ctx.restore()
  }
}

const legendPlugin = {
  id: 'twoPointLegend',
  afterDraw(chart) {
    const { ctx } = chart
    const box = { x: 64.5, y: 50.5, w: 574, h: 389 }
    ctx.save()
    ctx.fillStyle = '#b2b2b2'
    ctx.fillRect(box.x + 4, box.y + 4, box.w, box.h)
    ctx.fillStyle = '#fff'
    ctx.fillRect(box.x, box.y, box.w, box.h)
    ctx.strokeStyle = '#000'
    ctx.lineWidth = 1.2
    ctx.strokeRect(box.x, box.y, box.w, box.h)

    ctx.font = '41.5px "DejaVu Sans"'
    ctx.textBaseline = 'alphabetic'
    series.forEach((s, i) => {
      const rowY = 85.3 + i * 62.8
      const opts = { pointStyle: s.pointStyle, radius: s.radius, rotation: 0, borderWidth: .8 }
      ctx.fillStyle = s.color
      ctx.strokeStyle = '#000'
      ctx.lineWidth = .8
      Chart.helpers.drawPoint(ctx, opts, 93.3, rowY)
      ctx.fillStyle = s.color
      ctx.strokeStyle = '#000'
      Chart.helpers.drawPoint(ctx, opts, 151.8, rowY)
      ctx.fillStyle = '#000'
      ctx.fillText(s.label, 196, rowY + 14)
    })
    ctx.restore()
  }
}

new Chart(document.getElementById('chart').getContext('2d'), {
  type: 'scatter',
  data: {
    datasets: series.map(s => ({
      label: s.label,
      data: s.data.map(([x, y]) => ({ x, y })),
      pointStyle: s.pointStyle,
      pointRadius: s.radius,
      pointBackgroundColor: s.color,
      pointBorderColor: '#000',
      pointBorderWidth: .8
    }))
  },
  options: {
    responsive: false,
    animation: false,
    layout: { padding: { left: 0, top: 29, right: 28, bottom: 0 } },
    scales: {
      x: {
        type: 'linear',
        min: -25,
        max: 20,
        afterBuildTicks: scale => { scale.ticks = xTicks.map(value => ({ value })) },
        afterFit: scale => { scale.height = 38 },
        grid: { display: false },
        border: { display: false },
        ticks: { callback: formatTick, maxRotation: 0, autoSkip: false, color: '#000', font: { family: 'DejaVu Sans', size: 16 }, padding: 6 }
      },
      y: {
        type: 'linear',
        min: -15,
        max: 20,
        afterBuildTicks: scale => { scale.ticks = yTicks.map(value => ({ value })) },
        afterFit: scale => { scale.width = 43.5 },
        grid: { display: false },
        border: { display: false },
        ticks: { callback: formatTick, autoSkip: false, color: '#000', font: { family: 'DejaVu Sans', size: 16 }, padding: 6 }
      }
    },
    plugins: { legend: { display: false }, tooltip: { enabled: false } }
  },
  plugins: [framePlugin, legendPlugin]
})
</script>
</body>
</html>
